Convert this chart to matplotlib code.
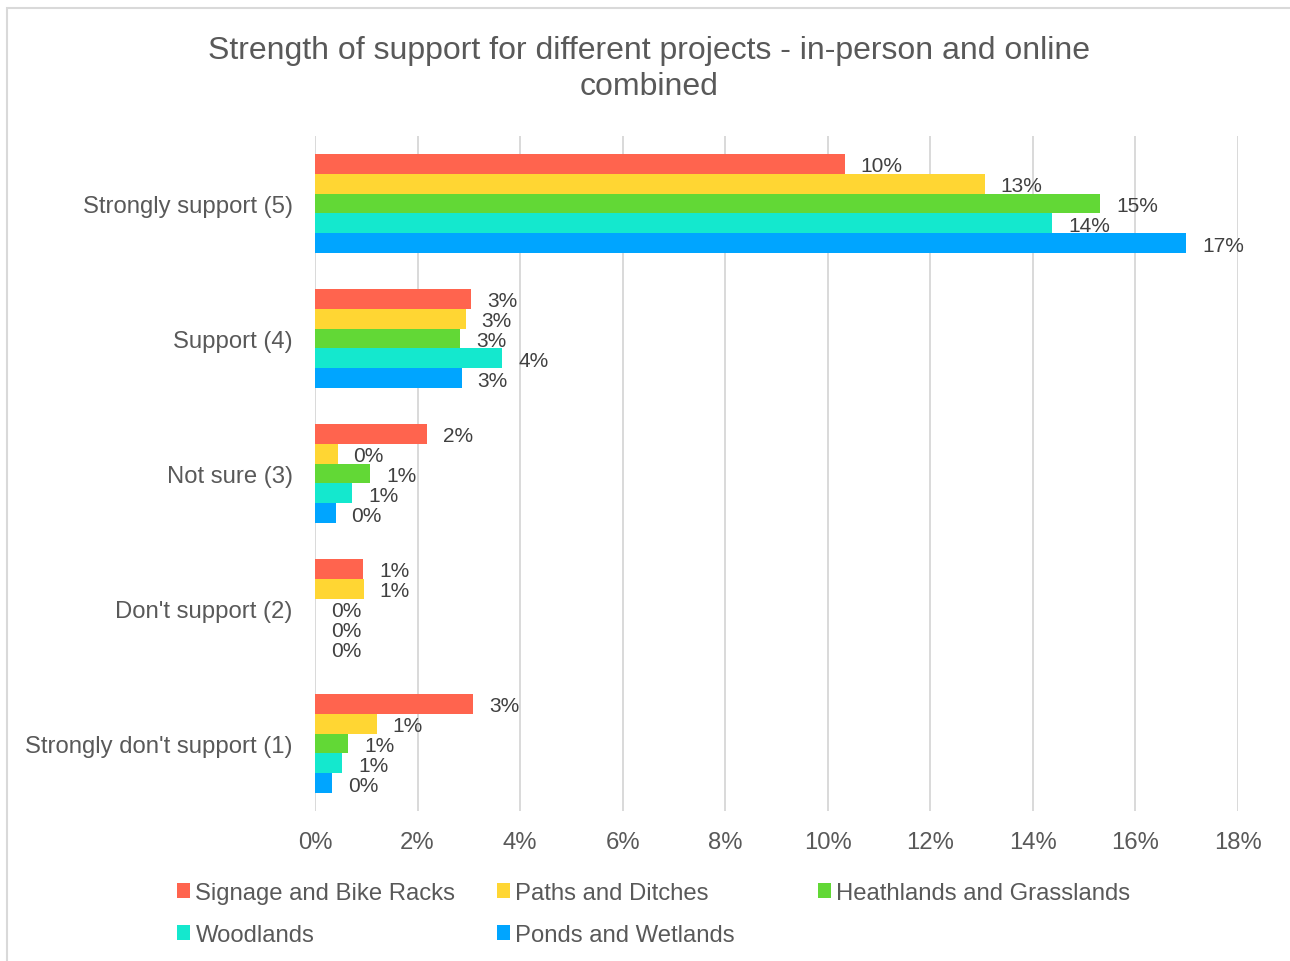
import numpy as np
import matplotlib.pyplot as plt
from matplotlib.patches import Patch, Rectangle

plt.rcParams['font.family'] = ['Liberation Sans', 'DejaVu Sans']

# Share of responses (%) per support level, top to bottom
categories = ["Strongly support (5)", "Support (4)", "Not sure (3)",
              "Don't support (2)", "Strongly don't support (1)"]
series_names = ["Signage and Bike Racks", "Paths and Ditches",
                "Heathlands and Grasslands", "Woodlands", "Ponds and Wetlands"]
signage = [10.33, 3.04, 2.19, 0.94, 3.08]
paths = [13.06, 2.94, 0.44, 0.95, 1.20]
heath = [15.31, 2.83, 1.08, 0.0, 0.65]
wood = [14.38, 3.65, 0.72, 0.0, 0.53]
ponds = [16.99, 2.86, 0.40, 0.0, 0.33]
x_ticks = [0, 2, 4, 6, 8, 10, 12, 14, 16, 18]

colors = ["#FF644E", "#FFD633", "#62D836", "#14E8CE", "#00A5FF"]
grey_text = "#595959"
grid_col = "#D9D9D9"

fig = plt.figure(figsize=(12.9, 9.62), dpi=100)
ax = fig.add_axes([315 / 1290, 1 - 812 / 962, (1238 - 315) / 1290, (812 - 137) / 962])

# outer chart frame (right and bottom edges fall outside the canvas)
fig.patches.append(Rectangle((7 / 1290, -0.1), 1.2, 1.1 - 9 / 962,
                             transform=fig.transFigure, fill=False,
                             edgecolor=grid_col, linewidth=1.5, clip_on=False))

y = np.arange(len(categories))
h = 0.1467
all_series = [signage, paths, heath, wood, ponds]
for j, (vals, name, col) in enumerate(zip(all_series, series_names, colors)):
    pos = y + (j - 2) * h
    ax.barh(pos, vals, height=h, color=col, label=name, edgecolor='none', zorder=3)
    for p, v in zip(pos, vals):
        ax.annotate(f"{v:.0f}%", (v, p), xytext=(11.5, -1.5), textcoords='offset points',
                    va='center', ha='left', fontsize=15, color="#404040")

ax.set_xlim(0, 18)
ax.set_ylim(len(categories) - 0.5, -0.5)
ax.set_xticks(x_ticks)
ax.set_xticklabels([f"{t}%" for t in x_ticks])
ax.set_yticks(y)
ax.set_yticklabels(categories)
ax.tick_params(axis='both', length=0, labelsize=17.2, labelcolor=grey_text)
ax.tick_params(axis='x', pad=14.5)
ax.tick_params(axis='y', pad=16)
ax.grid(axis='x', color=grid_col, linewidth=1.4, zorder=0)
for s in ax.spines.values():
    s.set_visible(False)

fig.text(649 / 1290, 1 - 69 / 962,
         "Strength of support for different projects - in-person and online\ncombined",
         ha='center', va='center', fontsize=23, color=grey_text, linespacing=1.27)

# legend laid out in three evenly spaced columns
handles = [Patch(facecolor=c, edgecolor='none') for c in colors]
columns = [(0, 3), (1, 4), (2,)]
col_x = [177, 497, 818]
for cx, idx in zip(col_x, columns):
    fig.legend([handles[i] for i in idx], [series_names[i] for i in idx],
               loc='upper left', bbox_to_anchor=(cx / 1290, 1 - 883 / 962),
               frameon=False, fontsize=17.2, labelcolor=grey_text,
               handlelength=0.55, handleheight=0.55, handletextpad=0.22,
               labelspacing=0.84, borderpad=0, borderaxespad=0)

fig.savefig("out.png", dpi=100, facecolor='white')
